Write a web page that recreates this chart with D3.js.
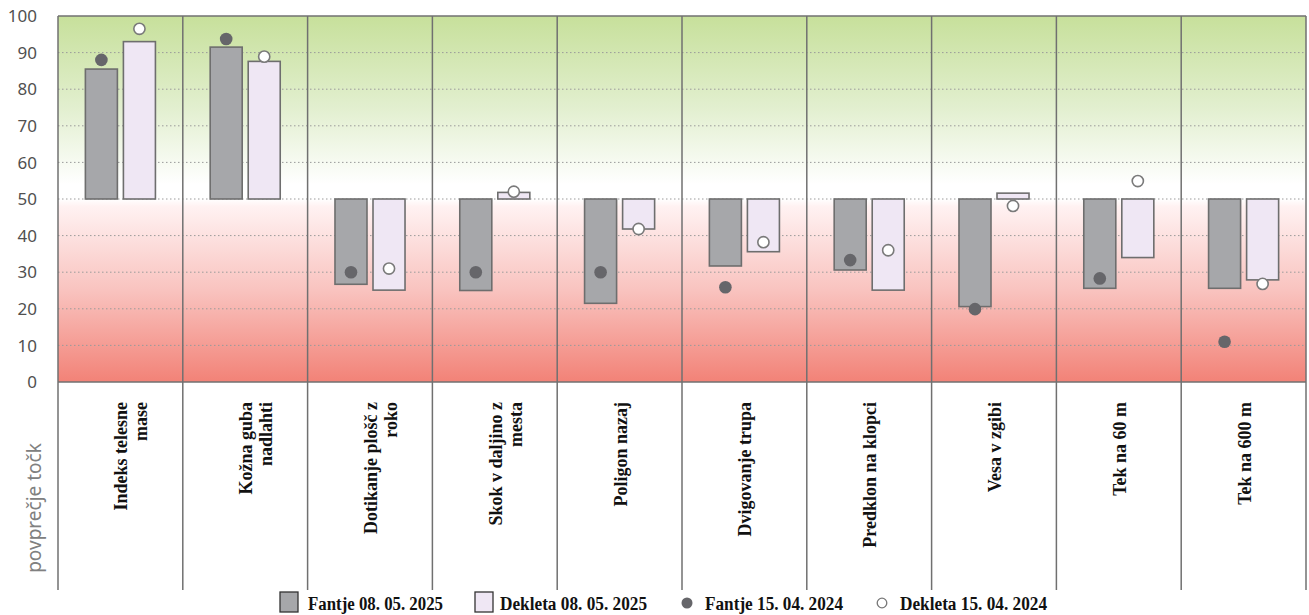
<!DOCTYPE html>
<html><head><meta charset="utf-8">
<script src="https://cdn.jsdelivr.net/npm/d3@7"></script>
<style>body{margin:0;background:#fff}</style>
</head><body>
<svg id="c" width="1309" height="615"></svg>
<script>
const categories = [
  ["Indeks telesne","mase"],
  ["Kožna guba","nadlahti"],
  ["Dotikanje plošč z","roko"],
  ["Skok v daljino z","mesta"],
  ["Poligon nazaj"],
  ["Dvigovanje trupa"],
  ["Predklon na klopci"],
  ["Vesa v zgibi"],
  ["Tek na 60 m"],
  ["Tek na 600 m"]
];
const boys2025  = [85.5, 91.5, 26.7, 25.0, 21.5, 31.7, 30.6, 20.6, 25.6, 25.6];
const girls2025 = [93.0, 87.6, 25.1, 51.8, 41.8, 35.6, 25.1, 51.6, 34.0, 27.9];
const boys2024  = [88.0, 93.7, 30.0, 30.0, 30.0, 25.9, 33.3, 19.9, 28.3, 11.0];
const girls2024 = [96.5, 88.9, 31.0, 52.0, 41.8, 38.2, 36.0, 48.1, 54.9, 26.8];
const yTicks = [0,10,20,30,40,50,60,70,80,90,100];
const legendLabels = ["Fantje 08. 05. 2025","Dekleta 08. 05. 2025","Fantje 15. 04. 2024","Dekleta 15. 04. 2024"];
const axisTitle = "povprečje točk";

const svg = d3.select("#c");
const L = 58, R = 1306, T = 16, B = 382, LB = 590;
const x = d3.scaleBand().domain(d3.range(categories.length)).range([L, R]);
const y = d3.scaleLinear().domain([0, 100]).range([B, T]);
const inner = d3.scaleBand().domain([0,1]).range([0, x.bandwidth()]).paddingInner(0.158).paddingOuter(0.72);

const defs = svg.append("defs");
const g = defs.append("linearGradient").attr("id","bg").attr("x1",0).attr("x2",0).attr("y1",0).attr("y2",1);
[[0,"#c7e09b"],[0.25,"#e2efcf"],[0.46,"#ffffff"],[0.5,"#ffffff"],[0.52,"#fff2f2"],[0.75,"#f9c3bf"],[1,"#f28277"]]
  .forEach(s => g.append("stop").attr("offset", s[0]).attr("stop-color", s[1]));

svg.append("rect").attr("x", L).attr("y", T).attr("width", R - L).attr("height", B - T).attr("fill","url(#bg)");

// grid
svg.append("g").selectAll("line").data(yTicks.filter(d => d > 0 && d < 100)).join("line")
  .attr("x1", L).attr("x2", R).attr("y1", d => y(d)).attr("y2", d => y(d))
  .attr("stroke", "#9a9a9a").attr("stroke-width", 1).attr("stroke-dasharray", "1.5,2.5");

// y tick labels
svg.append("g").selectAll("text").data(yTicks).join("text")
  .attr("x", 37).attr("y", d => y(d)).attr("dy", "0.36em").attr("text-anchor","end")
  .attr("font-family","'Noto Sans', sans-serif").attr("font-size", 17).attr("fill","#505050")
  .text(d => d);

// axis title
svg.append("text").attr("transform", "translate(41,508) rotate(-90)").attr("text-anchor","middle")
  .attr("font-family","'Noto Sans', sans-serif").attr("font-size", 19).attr("fill","#808080")
  .text(axisTitle);

// bars
const barG = svg.append("g");
const series = [{v: boys2025, fill: "#a6a7aa", k: 0}, {v: girls2025, fill: "#efe7f4", k: 1}];
series.forEach(s => {
  barG.selectAll(null).data(s.v).join("rect")
    .attr("x", (d,i) => x(i) + inner(s.k))
    .attr("width", inner.bandwidth())
    .attr("y", d => y(Math.max(d, 50)))
    .attr("height", d => Math.abs(y(d) - y(50)))
    .attr("fill", s.fill).attr("stroke", "#6e6e6e").attr("stroke-width", 1.6);
});

// separators & frame
svg.append("g").selectAll("line").data(d3.range(0, categories.length + 1)).join("line")
  .attr("x1", i => i < categories.length ? x(i) : R).attr("x2", i => i < categories.length ? x(i) : R)
  .attr("y1", T).attr("y2", LB)
  .attr("stroke", "#707070").attr("stroke-width", 1.5);
svg.append("line").attr("x1", L).attr("x2", R).attr("y1", T).attr("y2", T).attr("stroke","#707070").attr("stroke-width",1.5);
svg.append("line").attr("x1", L).attr("x2", R).attr("y1", B).attr("y2", B).attr("stroke","#707070").attr("stroke-width",1.5);

// dots
svg.append("g").selectAll("circle").data(boys2024).join("circle")
  .attr("cx", (d,i) => x(i) + inner(0) + inner.bandwidth()/2).attr("cy", d => y(d)).attr("r", 6.3)
  .attr("fill", "#66666a");
svg.append("g").selectAll("circle").data(girls2024).join("circle")
  .attr("cx", (d,i) => x(i) + inner(1) + inner.bandwidth()/2).attr("cy", d => y(d)).attr("r", 5.6)
  .attr("fill", "#ffffff").attr("stroke", "#7a7a7a").attr("stroke-width", 1.6);

// category labels
const labG = svg.append("g");
categories.forEach((lines, i) => {
  const cx = x(i) + x.bandwidth()/2;
  lines.forEach((ln, j) => {
    labG.append("text")
      .attr("transform", `translate(${cx + j*20 + 7},402) rotate(-90)`)
      .attr("text-anchor","end")
      .attr("font-family","'Liberation Serif', serif").attr("font-weight","bold")
      .attr("font-size", 18).attr("fill","#111")
      .text(ln);
  });
});

// legend
const lg = svg.append("g");
lg.append("rect").attr("x", 280).attr("y", 592).attr("width", 18).attr("height", 20).attr("fill","#a6a7aa").attr("stroke","#333").attr("stroke-width",1.3);
lg.append("rect").attr("x", 475).attr("y", 592).attr("width", 18).attr("height", 20).attr("fill","#efe7f4").attr("stroke","#333").attr("stroke-width",1.3);
lg.append("circle").attr("cx", 687).attr("cy", 603).attr("r", 5.5).attr("fill","#66666a");
lg.append("circle").attr("cx", 882).attr("cy", 603).attr("r", 4.8).attr("fill","#fff").attr("stroke","#777").attr("stroke-width",1.3);
const lx = [308, 500, 705, 900];
const lw = [135, 147, 138, 147];
legendLabels.forEach((t, i) => {
  lg.append("text").attr("x", lx[i]).attr("y", 610)
    .attr("font-family","'Liberation Serif', serif").attr("font-weight","bold").attr("font-size", 18).attr("fill","#111")
    .attr("textLength", lw[i]).attr("lengthAdjust","spacingAndGlyphs")
    .text(t);
});
</script>
</body></html>
